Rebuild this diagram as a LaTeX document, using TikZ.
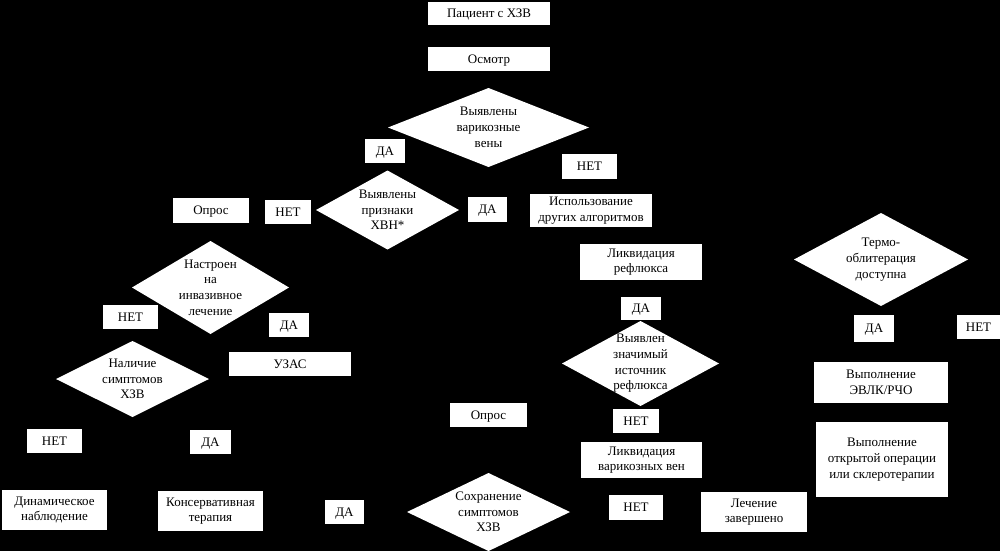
\documentclass[tikz,border=0pt]{standalone}
\usepackage{fontspec}
\setmainfont{Liberation Serif}
\usetikzlibrary{shapes.geometric}
\tikzset{t/.style={font=\fontsize{13}{15.7}\selectfont, align=center, inner sep=0pt}}
\tikzset{b/.style={t, fill=white, outer sep=0pt}}
\tikzset{s/.style={b, text depth=0pt}}
\tikzset{d/.style={diamond, fill=white, inner sep=0pt, outer sep=0pt}}

\begin{document}
\begin{tikzpicture}[x=1pt,y=-1pt]
          \fill[black] (0,0) rectangle (1000,551);
          \useasboundingbox (0,0) rectangle (1000,551);
          \node[s, minimum width=122, minimum height=23] (PC) at (489,13.5) {Пациент с ХЗВ};
          \node[s, minimum width=122, minimum height=24] (Osm) at (489,59) {Осмотр};
          \node[d, minimum width=201, minimum height=79] (Q1) at (488.5,127.5) {};
          \node[t] (Q1t) at (Q1) {Выявлены\\варикозные\\вены};
          \node[s, minimum width=40, minimum height=24] (Q1da) at (385,151) {ДА};
          \node[s, minimum width=55, minimum height=25] (Q1net) at (589.5,166.5) {НЕТ};
          \node[b, minimum width=122, minimum height=33] (Alg) at (591,210.5) {Использование\\других алгоритмов};
          \node[d, minimum width=143, minimum height=79] (Q2) at (387.5,210) {};
          \node[t] (Q2t) at (Q2) {Выявлены\\признаки\\ХВН*};
          \node[s, minimum width=39, minimum height=25] (Q2da) at (487.5,209.5) {ДА};
          \node[s, minimum width=46, minimum height=24] (Q2net) at (288,212) {НЕТ};
          \node[s, minimum width=76, minimum height=25] (Opr1) at (211,210.5) {Опрос};
          \node[d, minimum width=157, minimum height=93] (Q3) at (210.5,287.5) {};
          \node[t] (Q3t) at (Q3) {Настроен\\на\\инвазивное\\лечение};
          \node[s, minimum width=55, minimum height=24] (Q3net) at (130.5,317) {НЕТ};
          \node[s, minimum width=40, minimum height=24] (Q3da) at (289,325) {ДА};
          \node[s, minimum width=122, minimum height=24] (Uzas) at (290,364) {УЗАС};
          \node[d, minimum width=153, minimum height=76] (Q4) at (132.5,379) {};
          \node[t] (Q4t) at (Q4) {Наличие\\симптомов\\ХЗВ};
          \node[s, minimum width=55, minimum height=24] (Q4net) at (54.5,441) {НЕТ};
          \node[s, minimum width=41, minimum height=24] (Q4da) at (210.5,442) {ДА};
          \node[b, minimum width=105, minimum height=40] (Dyn) at (54.5,510) {Динамическое\\наблюдение};
          \node[b, minimum width=105, minimum height=40] (Kons) at (210.5,511) {Консервативная\\терапия};
          \node[b, minimum width=122, minimum height=36] (LikR) at (641,262) {Ликвидация\\рефлюкса};
          \node[s, minimum width=40, minimum height=23] (Q5da) at (641,308.5) {ДА};
          \node[d, minimum width=157, minimum height=85] (Q5) at (640.5,363.5) {};
          \node[t] (Q5t) at (Q5) {Выявлен\\значимый\\источник\\рефлюкса};
          \node[s, minimum width=46, minimum height=24] (Q5net) at (636,421) {НЕТ};
          \node[s, minimum width=77, minimum height=24] (Opr2) at (488.5,415) {Опрос};
          \node[b, minimum width=121, minimum height=36] (LikV) at (641.5,460) {Ликвидация\\варикозных вен};
          \node[d, minimum width=163, minimum height=78] (Q6) at (488.5,512) {};
          \node[t] (Q6t) at (Q6) {Сохранение\\симптомов\\ХЗВ};
          \node[s, minimum width=39, minimum height=24] (Q6da) at (344.5,512) {ДА};
          \node[s, minimum width=54, minimum height=25] (Q6net) at (636,507.5) {НЕТ};
          \node[b, minimum width=106, minimum height=40] (Done) at (754,512) {Лечение\\завершено};
          \node[d, minimum width=174, minimum height=93] (Q7) at (881,259.5) {};
          \node[t] (Q7t) at (Q7) {Термо-\\облитерация\\доступна};
          \node[s, minimum width=40, minimum height=27] (Q7da) at (874,328.5) {ДА};
          \node[s, minimum width=43, minimum height=24] (Q7net) at (978.5,327) {НЕТ};
          \node[b, minimum width=134, minimum height=41] (Evlk) at (881,382.5) {Выполнение\\ЭВЛК/РЧО};
          \node[b, minimum width=132, minimum height=75] (Open) at (882,459.5) {Выполнение\\открытой операции\\или склеротерапии};
        \end{tikzpicture}
\end{document}
